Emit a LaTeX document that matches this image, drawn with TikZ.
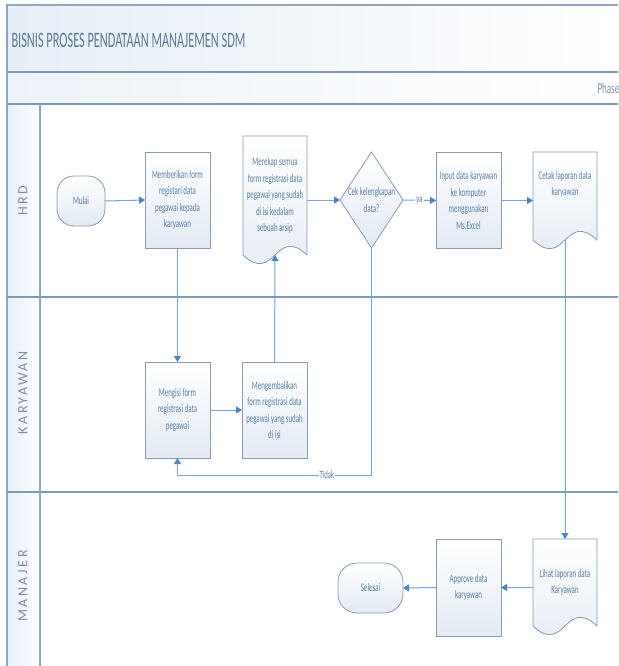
\documentclass[tikz,border=0pt]{standalone}
\usepackage{fontspec}
\setmainfont{Carlito}
\newfontfamily\boxfont[FakeStretch=0.6]{Carlito}
\newfontfamily\titlefont[FakeStretch=0.56]{Carlito}
\newfontfamily\lanefont[LetterSpace=18]{Carlito}
\usetikzlibrary{arrows.meta,calc}
\definecolor{framec}{HTML}{8FA7C0}
\definecolor{sepc}{HTML}{7F9AB8}
\definecolor{boxc}{HTML}{8A9DB3}
\definecolor{boxfill}{HTML}{E3EAF3}
\definecolor{linec}{HTML}{7AA5D6}
\definecolor{arrc}{HTML}{4F83C2}
\definecolor{txtc}{HTML}{5A7EA8}
\definecolor{lanetxt}{HTML}{7D8FA3}
\definecolor{titletxt}{HTML}{5F7A98}
\definecolor{bandc}{HTML}{E6EEF7}
\pgfdeclarelayer{back}
\pgfdeclarelayer{docbg}
\pgfsetlayers{back,docbg,main}
\tikzset{
  boxbase/.style={outer sep=0pt, inner sep=1pt, align=center, text=txtc,
    font=\boxfont\fontsize{11.5}{16.5}\selectfont},
  procbox/.style={boxbase, draw=boxc, line width=0.8pt, top color=white, bottom color=boxfill,
    minimum width=65, minimum height=96},
  docnode/.style={boxbase, minimum width=64},
  termbox/.style={boxbase, draw=boxc, line width=0.8pt, top color=white, bottom color=boxfill,
    rounded corners=17},
  outline/.style={draw=boxc, line width=0.8pt, top color=white, bottom color=boxfill},
  conn/.style={draw=linec, line width=1pt, -{Triangle[width=7pt,length=6pt,color=arrc]}},
  plainconn/.style={draw=linec, line width=1pt},
  sepline/.style={draw=sepc, line width=1.6pt},
  lanelabel/.style={rotate=90, text=lanetxt, font=\lanefont\fontsize{14}{16}\selectfont},
  flowlabel/.style={fill=white, inner sep=1pt, text=txtc, font=\boxfont\fontsize{11}{12}\selectfont}
}
\newcommand\docoutline[1]{%
  \begin{pgfonlayer}{docbg}
  \path[outline] (#1.north west) -- (#1.north east) -- (#1.south east)
    .. controls ($(#1.south)+(0,-30)$) and ($(#1.south)+(0,30)$) .. (#1.south west) -- cycle;
  \end{pgfonlayer}}
\newcommand\diamondoutline[1]{%
  \begin{pgfonlayer}{docbg}
  \path[outline] (#1.north) -- (#1.east) -- (#1.south) -- (#1.west) -- cycle;
  \end{pgfonlayer}}
\begin{document}
\begin{tikzpicture}[x=1pt,y=-1pt]
\useasboundingbox (0,0) rectangle (618,666);
\clip (0,0) rectangle (618,666);
\begin{pgfonlayer}{back}
  \fill[white] (0,0) rectangle (618,666);
  \fill[left color=bandc, right color=white] (7,5) rectangle (618,72);
  \fill[left color=bandc!70, right color=white] (7,72) rectangle (618,104);
  \fill[left color=bandc, right color=white] (7,104) rectangle (40,666);
  \draw[draw=framec, line width=1.2pt] (618,5) -- (7,5) -- (7,666);
  \draw[sepline] (7,72) -- (618,72);
  \draw[sepline] (7,104) -- (618,104);
  \draw[sepline] (7,297) -- (618,297);
  \draw[sepline] (7,492) -- (618,492);
  \draw[draw=framec, line width=1.2pt] (40,104) -- (40,666);
\end{pgfonlayer}
% title, phase, lanes
\node[anchor=west, text=titletxt, font=\titlefont\fontsize{22}{24}\selectfont] (title) at (8,40) {BISNIS PROSES PENDATAAN MANAJEMEN SDM};
\node[anchor=west, text=lanetxt, font=\boxfont\fontsize{15}{16}\selectfont] (phase) at (594,88) {Phase};
\node[lanelabel] (lhrd) at (23,201) {HRD};
\node[lanelabel] (lkar) at (23,393) {KARYAWAN};
\node[lanelabel] (lman) at (23,586) {MANAJER};
% HRD lane
\node[termbox, minimum width=48, minimum height=50] (mulai) at (81,201) {Mulai};
\node[procbox] (beri) at (177.5,200) {Memberikan form\\registari data\\pegawai kepada\\karyawan};
\node[docnode, minimum height=119] (rekap) at (275,195.5) {Merekap semua\\form registrasi data\\pegawai yang sudah\\di isi kedalam\\sebuah arsip};
\docoutline{rekap}
\node[boxbase, minimum width=63, minimum height=96] (cek) at (371.5,200) {Cek kelengkapan\\data?};
\diamondoutline{cek}
\node[procbox] (input) at (468.5,200.5) {Input data karyawan\\ke komputer\\menggunakan\\Ms.Excel};
\node[docnode, minimum height=88] (cetak) at (565,196) {Cetak laporan data\\karyawan\\[8pt]};
\docoutline{cetak}
% KARYAWAN lane
\node[procbox] (isi) at (177.5,410) {Mengisi form\\registrasi data\\pegawai};
\node[procbox] (kembali) at (274.5,410) {Mengembalikan\\form registrasi data\\pegawai yang sudah\\di isi};
% MANAJER lane
\node[docnode, minimum height=87] (lihat) at (565,582.5) {Lihat laporan data\\Karyawan};
\docoutline{lihat}
\node[procbox, minimum height=97] (approve) at (468.5,587.5) {Approve data\\karyawan};
\node[termbox, minimum width=65, minimum height=50, rounded corners=19] (selesai) at (370.5,588) {Selesai};
% connectors
\draw[conn] (mulai.east) -- (beri.west);
\draw[conn] (rekap.east |- cek.west) -- (cek.west);
\draw[plainconn] (cek.east) -- node[flowlabel] (ya) {ya} (input.west);
\draw[conn] (ya.east) -- (input.west);
\draw[conn] (input.east) -- (input.east -| cetak.west);
\draw[conn] (beri.south) -- (isi.north);
\draw[conn] (isi.east) -- (kembali.west);
\draw[conn] (kembali.north) -- (rekap.south);
\coordinate (tr) at ($(cek.south)+(0,227)$);
\coordinate (tl) at (tr -| isi.south);
\draw[conn] (cek.south) -- (tr) -- node[flowlabel, pos=0.23] (tidak) {Tidak} (tl) -- (isi.south);
\draw[conn] (cetak.south) -- (lihat.north);
\draw[conn] (lihat.west |- approve.east) -- (approve.east);
\draw[conn] (approve.west) -- (selesai.east);
\end{tikzpicture}
\end{document}
